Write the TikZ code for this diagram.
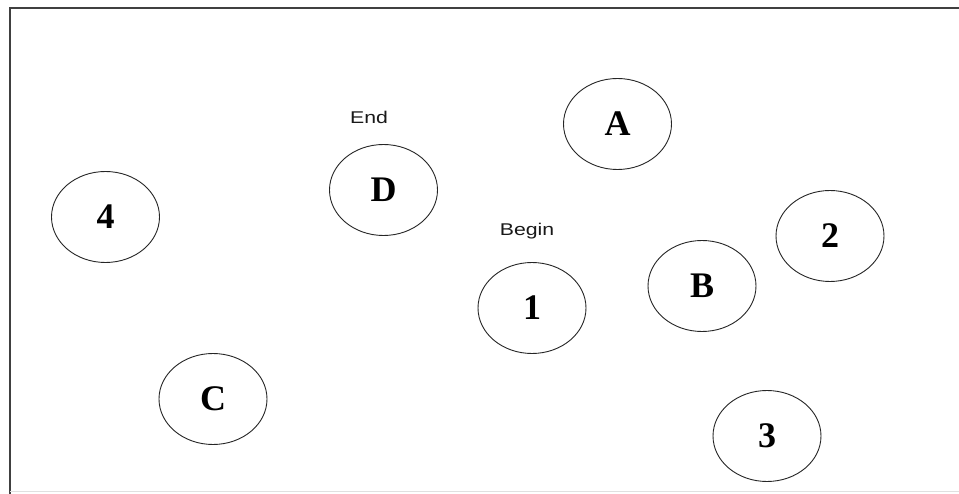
\documentclass[tikz,border=0pt]{standalone}
\usepackage{fontspec}
\setmainfont{Liberation Serif}
\newfontfamily\labelsans{Liberation Sans}
\usetikzlibrary{shapes.geometric}
\begin{document}
\begin{tikzpicture}[x=1pt,y=-1pt,
  state/.style={ellipse,draw=black!85,line width=0.9pt,
    minimum width=108pt,minimum height=91pt,inner sep=0pt,
    font=\fontsize{36}{36}\selectfont\bfseries},
  tag/.style={font=\labelsans\fontsize{17}{17}\selectfont,text=black!90}]
  % page and frame
  \useasboundingbox (0,0) rectangle (959,494);
  \fill[white] (0,0) rectangle (959,494);
  \draw[black!75,line width=1.5pt] (10,494) -- (10,8) -- (960,8);
  \draw[black!12,line width=1pt] (10,491.5) -- (960,491.5);

  % states
  \node[state] (nA) at (617.5,124) {A};
  \node[state] (nD) at (383.5,190) {D};
  \node[state] (n4) at (105.5,217) {4};
  \node[state] (n1) at (532,308) {1};
  \node[state] (nB) at (702,286) {B};
  \node[state] (n2) at (830,236) {2};
  \node[state] (nC) at (213,399) {C};
  \node[state] (n3) at (767,436) {3};

  % markers
  \node[tag] (tEnd) at (369,117) {\scalebox{1.25}[1]{End}};
  \node[tag] (tBegin) at (527,231) {\scalebox{1.25}[1]{Begin}};
\end{tikzpicture}
\end{document}
